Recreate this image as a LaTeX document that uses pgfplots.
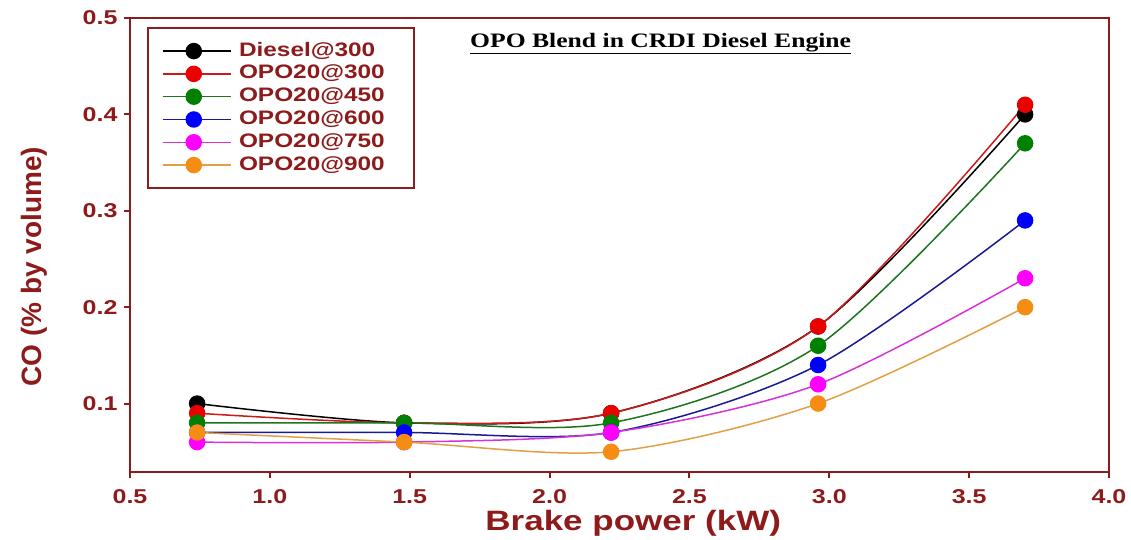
\documentclass[border=0pt]{standalone}
\usepackage{pgfplots}
\pgfplotsset{compat=1.18}
\usepackage{fontspec}
\setmainfont{Liberation Sans}[FakeStretch=1.25]
\newfontfamily\ylabfont{Liberation Sans}
\newfontfamily\titlefont{Liberation Serif}[FakeStretch=1.25]
\definecolor{axred}{HTML}{8E1B1B}
\definecolor{cBlackM}{RGB}{0,0,0}
\definecolor{cRedM}{RGB}{235,0,0}
\definecolor{cRedL}{RGB}{205,25,25}
\definecolor{cGreenM}{RGB}{0,128,0}
\definecolor{cGreenL}{RGB}{30,115,30}
\definecolor{cBlueM}{RGB}{0,0,250}
\definecolor{cBlueL}{RGB}{25,25,150}
\definecolor{cMagM}{RGB}{255,0,255}
\definecolor{cMagL}{RGB}{215,50,215}
\definecolor{cOrM}{RGB}{245,140,20}
\definecolor{cOrL}{RGB}{225,160,70}
\begin{document}
\begin{tikzpicture}
\begin{axis}[
  width=979pt, height=454pt, scale only axis,
  xmin=0.5, xmax=4.0, ymin=0.029, ymax=0.5,
  xtick={0.5,1.0,1.5,2.0,2.5,3.0,3.5,4.0},
  ytick={0.1,0.2,0.3,0.4,0.5},
  xtick pos=left, ytick pos=left,
  tick align=outside, major tick length=6pt,
  axis line style={draw=axred, line width=2.2pt},
  every tick/.style={draw=axred, line width=2pt},
  /pgf/number format/assume math mode=true,
  /pgf/number format/.cd, fixed, fixed zerofill, precision=1, /pgfplots/.cd,
  tick label style={font=\fontsize{20}{22}\selectfont\bfseries, text=axred},
  yticklabel style={xshift=-3pt},
  xticklabel style={yshift=-8pt},
  xlabel={Brake power (kW)},
  ylabel={\ylabfont CO (\% by volume)},
  label style={font=\fontsize{28}{30}\selectfont\bfseries, text=axred},
  xlabel style={at={(axis description cs:0.514,-0.114)}, anchor=center},
  ylabel style={at={(axis description cs:-0.098,0.452)}, anchor=center, rotate=0},
  legend style={at={(rel axis cs:0.0174,0.980)}, anchor=north west,
    draw=axred, line width=2pt, font=\fontsize{19.5}{21}\selectfont\bfseries,
    text=axred, inner xsep=14pt, inner ysep=12pt, row sep=0.8pt,
    nodes={text height=14pt, text depth=4pt, inner ysep=2pt, inner xsep=7.5pt}},
  legend cell align=left,
  legend image code/.code={%
    \path (0pt,0pt) -- (68pt,0pt);
    \draw[mark repeat=2,mark phase=2, line width=1.5pt] plot coordinates {(0pt,0pt)(31pt,0pt)(62pt,0pt)};},
  every axis plot/.append style={line width=1.5pt, smooth},
]
\addplot[color=cBlackM, mark=*, mark size=7.5pt, mark options={fill=cBlackM, draw=cBlackM}]
  coordinates {(0.74,0.10)(1.48,0.08)(2.22,0.09)(2.96,0.18)(3.70,0.40)};
\addlegendentry{Diesel@300}
\addplot[color=cRedL, mark=*, mark size=7.5pt, mark options={fill=cRedM, draw=cRedM}]
  coordinates {(0.74,0.09)(1.48,0.08)(2.22,0.09)(2.96,0.18)(3.70,0.41)};
\addlegendentry{OPO20@300\rule{8pt}{0pt}}
\addplot[color=cGreenL, mark=*, mark size=7.5pt, mark options={fill=cGreenM, draw=cGreenM}]
  coordinates {(0.74,0.08)(1.48,0.08)(2.22,0.08)(2.96,0.16)(3.70,0.37)};
\addlegendentry{OPO20@450}
\addplot[color=cBlueL, mark=*, mark size=7.5pt, mark options={fill=cBlueM, draw=cBlueM}]
  coordinates {(0.74,0.07)(1.48,0.07)(2.22,0.07)(2.96,0.14)(3.70,0.29)};
\addlegendentry{OPO20@600}
\addplot[color=cMagL, mark=*, mark size=7.5pt, mark options={fill=cMagM, draw=cMagM}]
  coordinates {(0.74,0.06)(1.48,0.06)(2.22,0.07)(2.96,0.12)(3.70,0.23)};
\addlegendentry{OPO20@750}
\addplot[color=cOrL, mark=*, mark size=7.5pt, mark options={fill=cOrM, draw=cOrM}]
  coordinates {(0.74,0.07)(1.48,0.06)(2.22,0.05)(2.96,0.10)(3.70,0.20)};
\addlegendentry{OPO20@900}
\node[font=\titlefont\fontsize{20.5}{22}\selectfont\bfseries, text=black] at (rel axis cs:0.542,0.943) {\underline{OPO Blend in CRDI Diesel Engine}};
\end{axis}
\pgfresetboundingbox
\useasboundingbox ([shift={(-130pt,-68pt)}]current axis.south west) rectangle ([shift={(22pt,18pt)}]current axis.north east);
\end{tikzpicture}
\end{document}
